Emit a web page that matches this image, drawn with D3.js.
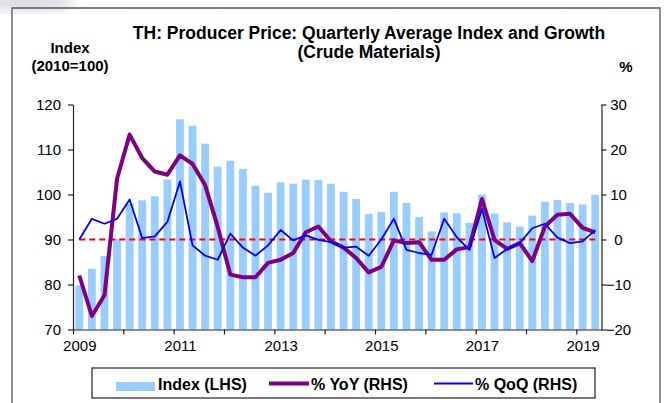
<!DOCTYPE html>
<html>
<head>
<meta charset="utf-8">
<script src="https://cdn.jsdelivr.net/npm/d3@7/dist/d3.min.js"></script>
<style>
  html, body { margin: 0; padding: 0; background: #fff; }
  svg { display: block; font-family: Arial, "Liberation Sans", sans-serif; }
</style>
</head>
<body>
<svg id="chart" width="668" height="403"></svg>
<script>
// ---------- data ----------
const quarters = [
  "2009Q1","2009Q2","2009Q3","2009Q4","2010Q1","2010Q2","2010Q3","2010Q4",
  "2011Q1","2011Q2","2011Q3","2011Q4","2012Q1","2012Q2","2012Q3","2012Q4",
  "2013Q1","2013Q2","2013Q3","2013Q4","2014Q1","2014Q2","2014Q3","2014Q4",
  "2015Q1","2015Q2","2015Q3","2015Q4","2016Q1","2016Q2","2016Q3","2016Q4",
  "2017Q1","2017Q2","2017Q3","2017Q4","2018Q1","2018Q2","2018Q3","2018Q4",
  "2019Q1","2019Q2"
];
const indexLHS = [
  79.8, 83.5, 86.3, 90.1, 98.0, 98.7, 99.6, 103.3,
  116.7, 115.3, 111.3, 106.2, 107.5, 105.7, 101.9, 100.4,
  102.7, 102.4, 103.3, 103.2, 102.4, 100.6, 99.0, 95.7,
  96.1, 100.6, 98.1, 95.0, 91.8, 96.0, 95.8, 93.7,
  100.0, 95.8, 93.8, 92.9, 95.3, 98.4, 98.8, 98.1,
  97.8, 99.9
];
const yoyRHS = [
  -8.0, -17.0, -12.4, 13.5, 23.3, 18.1, 15.1, 14.4,
  18.7, 16.8, 12.1, 2.8, -7.8, -8.4, -8.4, -5.2,
  -4.5, -3.0, 1.6, 2.9, -0.4, -1.8, -4.1, -7.3,
  -6.1, -0.2, -0.8, -0.6, -4.5, -4.5, -2.2, -1.7,
  9.0, -0.1, -2.1, -0.8, -4.8, 2.9, 5.5, 5.7,
  2.6, 1.6
];
const qoqRHS = [
  0.0, 4.6, 3.5, 4.6, 8.9, 0.3, 0.7, 3.9,
  12.9, -1.3, -3.6, -4.5, 1.3, -1.8, -3.6, -1.3,
  2.1, -0.2, 0.9, -0.1, -0.6, -1.8, -1.6, -3.6,
  0.0, 4.6, -2.3, -3.0, -3.4, 4.6, 0.5, -2.3,
  6.8, -4.1, -2.1, -0.8, 2.5, 3.5, 0.4, -0.8,
  -0.4, 2.1
];
const leftTicks = [70, 80, 90, 100, 110, 120];
const rightTicks = [-20, -10, 0, 10, 20, 30];
const yearTicks = [2009, 2010, 2011, 2012, 2013, 2014, 2015, 2016, 2017, 2018, 2019];
const yearLabels = [2009, 2011, 2013, 2015, 2017, 2019];
const titleLines = ["TH: Producer Price: Quarterly Average Index and Growth", "(Crude Materials)"];
const leftAxisTitle = ["Index", "(2010=100)"];
const rightAxisTitle = "%";
const legendItems = ["Index (LHS)", "% YoY (RHS)", "% QoQ (RHS)"];

// ---------- layout ----------
const svg = d3.select("#chart");
const X0 = 73, X1 = 601.5, YT = 104.5, YB = 329.5;
const font = "Arial, 'Liberation Sans', sans-serif";

// faint smudge at top-left corner
const defs = svg.append("defs");
defs.append("filter").attr("id", "blur").append("feGaussianBlur").attr("stdDeviation", 6);
svg.append("ellipse").attr("cx", 30).attr("cy", 2).attr("rx", 45).attr("ry", 10)
  .attr("fill", "#dcdce6").attr("filter", "url(#blur)");

// frame
svg.append("path").attr("d", "M12,404 V8 H660 V404")
  .attr("fill", "none").attr("stroke", "#555").attr("stroke-width", 1.3);

// scales
const x = d3.scaleBand().domain(quarters).range([X0, X1]).paddingInner(0.38).paddingOuter(0.19);
const xt = d3.scaleLinear().domain([2009, 2019.5]).range([X0, X1]);
const yL = d3.scaleLinear().domain([70, 120]).range([YB, YT]);
const yR = d3.scaleLinear().domain([-20, 30]).range([YB, YT]);
const cx = q => x(q) + x.bandwidth() / 2;

// bars
svg.append("g").selectAll("rect").data(quarters).join("rect")
  .attr("x", d => x(d)).attr("width", x.bandwidth())
  .attr("y", (d, i) => yL(indexLHS[i]))
  .attr("height", (d, i) => yL(70) - yL(indexLHS[i]))
  .attr("fill", "#99ccff");

// zero line (dashed red)
svg.append("line")
  .attr("x1", cx(quarters[0])).attr("x2", cx(quarters[quarters.length - 1]))
  .attr("y1", yR(0)).attr("y2", yR(0))
  .attr("stroke", "#ff0000").attr("stroke-width", 2).attr("stroke-dasharray", "6,4");

// lines
const lineGen = arr => d3.line().x((d, i) => cx(quarters[i])).y(d => yR(d))(arr);
svg.append("path").attr("d", lineGen(yoyRHS))
  .attr("fill", "none").attr("stroke", "#800080").attr("stroke-width", 4)
  .attr("stroke-linejoin", "round");
svg.append("path").attr("d", lineGen(qoqRHS))
  .attr("fill", "none").attr("stroke", "#0000ff").attr("stroke-width", 1.8)
  .attr("stroke-linejoin", "round");

// axes
const axisStyle = g => {
  g.selectAll("path.domain").attr("stroke", "#222").attr("stroke-width", 1.2);
  g.selectAll(".tick line").attr("stroke", "#222").attr("stroke-width", 1.2);
  g.selectAll("text").attr("font-family", font).attr("font-size", 15).attr("fill", "#000");
};
svg.append("g").attr("transform", `translate(${X0},0)`)
  .call(d3.axisLeft(yL).tickValues(leftTicks).tickSize(5).tickSizeOuter(0).tickPadding(7))
  .call(axisStyle);
svg.append("g").attr("transform", `translate(${X1},0)`)
  .call(d3.axisRight(yR).tickValues(rightTicks).tickSize(5).tickSizeOuter(0).tickPadding(0))
  .call(axisStyle)
  .call(g => g.selectAll("text").attr("text-anchor", "middle").attr("x", 17));
svg.append("g").attr("transform", `translate(0,${YB})`)
  .call(d3.axisBottom(xt).tickValues(yearTicks).tickSize(5).tickSizeOuter(0)
    .tickFormat(d => yearLabels.includes(d) ? String(d) : "").tickPadding(6))
  .call(axisStyle)
  .call(g => g.selectAll("text").attr("dx", x.step() / 2));

// titles
svg.append("text").attr("x", 369).attr("y", 38.5).attr("text-anchor", "middle")
  .attr("font-family", font).attr("font-weight", "bold").attr("font-size", 17.5)
  .text(titleLines[0]);
svg.append("text").attr("x", 369).attr("y", 58).attr("text-anchor", "middle")
  .attr("font-family", font).attr("font-weight", "bold").attr("font-size", 17.5)
  .text(titleLines[1]);
svg.append("text").attr("x", 70).attr("y", 53).attr("text-anchor", "middle")
  .attr("font-family", font).attr("font-weight", "bold").attr("font-size", 15)
  .text(leftAxisTitle[0]);
svg.append("text").attr("x", 70).attr("y", 71).attr("text-anchor", "middle")
  .attr("font-family", font).attr("font-weight", "bold").attr("font-size", 15)
  .text(leftAxisTitle[1]);
svg.append("text").attr("x", 626).attr("y", 72).attr("text-anchor", "middle")
  .attr("font-family", font).attr("font-weight", "bold").attr("font-size", 15)
  .text(rightAxisTitle);

// legend
const lg = svg.append("g");
lg.append("rect").attr("x", 92).attr("y", 368).attr("width", 503).attr("height", 30)
  .attr("fill", "#fff").attr("stroke", "#222").attr("stroke-width", 1.2);
lg.append("rect").attr("x", 116).attr("y", 382).attr("width", 39).attr("height", 9).attr("fill", "#99ccff");
lg.append("line").attr("x1", 269).attr("x2", 309).attr("y1", 383.5).attr("y2", 383.5)
  .attr("stroke", "#800080").attr("stroke-width", 4);
lg.append("line").attr("x1", 434).attr("x2", 473).attr("y1", 383.5).attr("y2", 383.5)
  .attr("stroke", "#0000ff").attr("stroke-width", 1.8);
const lx = [158, 311, 475];
lg.selectAll("text.leg").data(legendItems).join("text").attr("class", "leg")
  .attr("x", (d, i) => lx[i]).attr("y", 389.5)
  .attr("font-family", font).attr("font-weight", "bold").attr("font-size", 16)
  .text(d => d);
</script>
</body>
</html>
